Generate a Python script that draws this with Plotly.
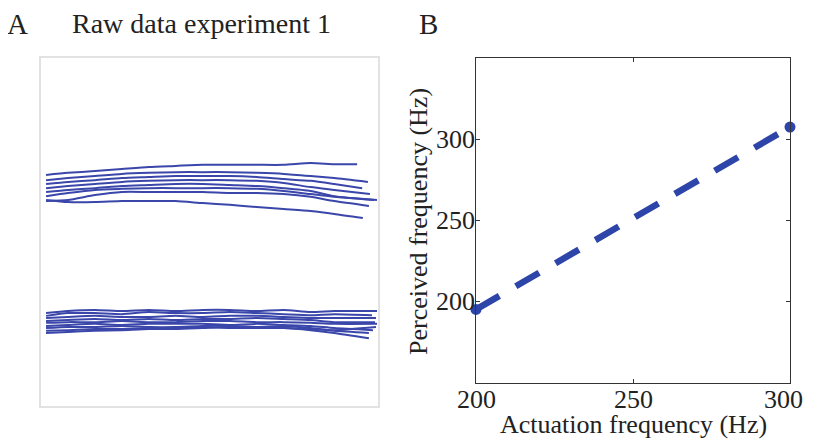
import plotly.graph_objects as go

# ---------------- Panel A: raw traces (arbitrary units) ----------------
t_grid = [1.5, 8, 16, 24, 32, 40, 48, 56, 64, 72, 80, 87]

upper_traces = [
    ([66.4, 67.0, 67.5, 68.1, 68.7, 69.0, 69.3, 69.3, 69.3, 69.3, 69.8, 69.5], 93.8, 69.5),
    ([64.9, 65.5, 66.1, 66.7, 67.0, 67.2, 67.2, 67.2, 67.0, 66.7, 66.1, 65.5], 97.0, 64.4),
    ([63.8, 64.4, 64.9, 65.5, 65.8, 66.1, 66.1, 66.1, 65.8, 65.2, 64.7, 63.8], 95.3, 62.6),
    ([62.6, 63.2, 63.8, 64.4, 64.7, 64.9, 64.9, 64.9, 64.7, 64.1, 62.9, 62.1], 97.6, 60.9),
    ([61.5, 62.1, 62.6, 63.2, 63.5, 63.8, 63.8, 63.5, 63.2, 62.6, 61.8, 60.3], 98.8, 59.2),
    ([60.3, 61.2, 62.1, 62.4, 62.6, 62.6, 62.6, 62.6, 62.4, 61.8, 60.9, 60.1], 99.7, 59.2),
    ([58.9, 59.2, 60.6, 61.5, 61.5, 61.5, 61.5, 61.2, 61.2, 60.9, 60.1, 58.9], 97.3, 57.5),
    ([59.2, 58.6, 58.6, 58.9, 58.9, 58.9, 58.3, 57.8, 57.2, 56.6, 56.0, 55.2], 95.5, 54.0),
]

lower_traces = [
    ([26.7, 27.3, 27.6, 27.3, 27.6, 27.3, 27.6, 27.6, 27.3, 27.6, 27.0, 27.3], 99.7, 27.3),
    ([25.9, 26.7, 26.7, 26.4, 27.0, 26.7, 26.7, 27.0, 26.7, 26.4, 26.1, 26.4], 98.2, 26.1),
    ([25.3, 25.6, 25.9, 25.6, 25.6, 25.9, 25.6, 25.9, 25.9, 25.6, 25.3, 25.3], 99.4, 25.3),
    ([24.4, 24.7, 25.0, 24.7, 25.0, 24.7, 25.0, 25.0, 25.3, 25.0, 24.7, 24.1], 99.1, 24.1),
    ([23.9, 24.1, 24.1, 24.4, 24.1, 24.1, 24.4, 24.4, 24.1, 24.1, 23.9, 23.6], 99.7, 23.6),
    ([23.0, 23.3, 23.6, 23.3, 23.6, 23.6, 23.6, 23.3, 23.6, 23.3, 23.0, 22.4], 98.5, 21.8),
    ([22.4, 22.7, 22.7, 23.0, 22.7, 22.7, 23.0, 23.0, 22.7, 23.0, 22.4, 21.6], 97.3, 21.0),
    ([21.6, 21.8, 22.1, 22.1, 22.4, 22.4, 22.7, 22.4, 22.4, 22.4, 21.8, 21.0], 97.3, 19.5),
    ([21.0, 21.3, 21.6, 21.8, 22.1, 22.1, 22.4, 22.7, 22.7, 22.4, 22.1, 21.8], 99.4, 22.7),
]

# ---------------- Panel B ----------------
actuation_hz = [200, 300]
perceived_hz = [195.3, 307.5]
x_ticks_b = [200, 250, 300]
y_ticks_b = [200, 250, 300]

RAW_COLOR = "rgb(58,70,170)"
FIT_COLOR = "rgb(45,68,168)"
FONT = "Liberation Serif, Times New Roman, serif"

# the page body has a default 8px margin; size the figure to fill the window
OFF = 8
W, H = 813 - OFF, 442 - OFF


def fx(px):
    return (px - OFF) / W


def fy(py):
    return 1 - (py - OFF) / H


fig = go.Figure()

for vals, t_end, v_end in upper_traces + lower_traces:
    fig.add_trace(go.Scatter(
        x=t_grid + [t_end], y=vals + [v_end], mode="lines",
        line=dict(color=RAW_COLOR, width=2, shape="spline", smoothing=0.6),
        xaxis="x", yaxis="y", showlegend=False, hoverinfo="skip"))

fig.add_trace(go.Scatter(
    x=actuation_hz, y=perceived_hz, mode="lines+markers",
    line=dict(color=FIT_COLOR, width=6.5, dash="27px,19px"),
    marker=dict(color=FIT_COLOR, size=11),
    cliponaxis=False, xaxis="x2", yaxis="y2", showlegend=False))


def px_ann(text, x, y, size, angle=0):
    return dict(text=text, x=fx(x), y=fy(y), xref="paper", yref="paper",
                xanchor="center", yanchor="middle", showarrow=False,
                textangle=angle, borderpad=0, font=dict(size=size))


annotations = [
    px_ann("A", 17, 24, 29),
    px_ann("Raw data experiment 1", 201, 24, 28),
    px_ann("B", 428, 24, 29),
    px_ann("Actuation frequency (Hz)", 633, 424, 26),
    px_ann("Perceived frequency (Hz)", 418, 221, 26, -90),
]
# tick labels of panel B, placed on the axis data coordinates
for i, v in enumerate(x_ticks_b):
    last = i == len(x_ticks_b) - 1
    annotations.append(dict(text=str(v), x=v, xref="x2", y=fy(399), yref="paper",
                            xanchor="right" if last else "center",
                            xshift=14 if last else 0,
                            yanchor="middle", showarrow=False, borderpad=0,
                            font=dict(size=26)))
for v in y_ticks_b:
    annotations.append(dict(text=str(v), x=fx(473), xref="paper", y=v, yref="y2",
                            xanchor="right", yanchor="middle", showarrow=False,
                            xshift=3, borderpad=0, font=dict(size=26)))

fig.update_layout(
    template="none",
    width=W, height=H,
    margin=dict(l=0, r=0, t=0, b=0, autoexpand=False),
    paper_bgcolor="white", plot_bgcolor="white",
    font=dict(family=FONT, color="#222", size=26),
    xaxis=dict(domain=[fx(41), fx(378)], range=[0, 100], showgrid=False, automargin=False,
               zeroline=False, showticklabels=False, ticks="",
               showline=True, mirror=True, linecolor="#e2e2e2", linewidth=2),
    yaxis=dict(domain=[fy(406), fy(58)], range=[0, 100], showgrid=False, automargin=False,
               zeroline=False, showticklabels=False, ticks="",
               showline=True, mirror=True, linecolor="#e2e2e2", linewidth=2),
    xaxis2=dict(domain=[fx(476), fx(790)], range=[200, 300], anchor="y2", automargin=False,
                tickvals=x_ticks_b, ticks="inside", ticklen=4, tickcolor="#333",
                showticklabels=False,
                showline=True, mirror="ticks", linecolor="#333", linewidth=1.3,
                showgrid=False, zeroline=False),
    yaxis2=dict(domain=[fy(383), fy(58)], range=[150, 350], anchor="x2", automargin=False,
                tickvals=y_ticks_b, ticks="inside", ticklen=4, tickcolor="#333",
                showticklabels=False,
                showline=True, mirror="ticks", linecolor="#333", linewidth=1.3,
                showgrid=False, zeroline=False),
    annotations=annotations,
)

fig.write_html("out.html")
